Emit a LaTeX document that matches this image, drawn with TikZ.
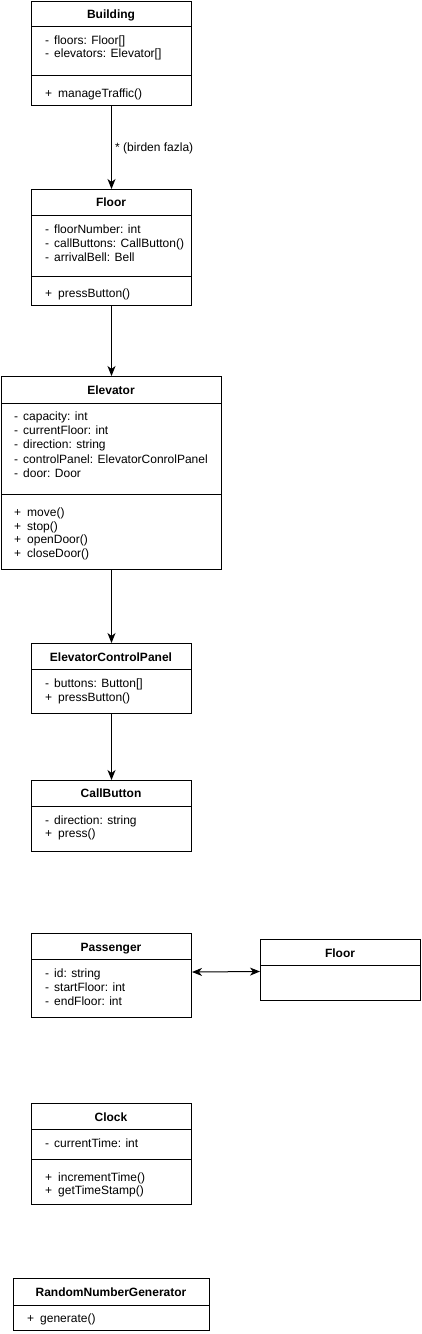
\documentclass[tikz,border=0pt]{standalone}
\usepackage{fontspec}
\setmainfont{Liberation Sans}
\usetikzlibrary{arrows.meta}
\tikzset{
  box/.style={draw=black, line width=1pt, inner sep=0pt, anchor=north west},
  ttl/.style={anchor=base, inner sep=0pt, font=\fontsize{12}{14}\selectfont\bfseries},
  mem/.style={anchor=base west, inner sep=0pt, font=\fontsize{12}{14}\selectfont},
  lbl/.style={anchor=base west, inner sep=0pt, font=\fontsize{12}{14}\selectfont},
  sep/.style={line width=1pt},
  arr/.style={line width=1pt, -{Stealth[length=10pt,width=8pt,inset=3pt]}},
  arrb/.style={line width=1pt, {Stealth[length=10pt,width=8pt,inset=3pt]}-{Stealth[length=10pt,width=8pt,inset=3pt]}},
}
\newcommand{\mdash}{-\hspace{5pt}}
\newcommand{\mplus}{+\hspace{6pt}}
\begin{document}
\begin{tikzpicture}[x=1pt,y=-1pt]
\useasboundingbox[fill=white] (0,0) rectangle (421,1334);

% Building
\node[box, minimum width=160pt, minimum height=104.5pt] (building) at (31,0.5) {};
\draw[sep] (31,26) -- (191,26);
\draw[sep] (31,75.5) -- (191,75.5);
\node[ttl] (buildingT) at (111,18) {Building};
\node[mem] (b1) at (45,44) {\mdash floors: Floor[]};
\node[mem] (b2) at (45,57.5) {\mdash elevators: Elevator[]};
\node[mem] (b3) at (45,97) {\mplus manageTraffic()};

% Floor
\node[box, minimum width=160pt, minimum height=116pt] (floor) at (31,189) {};
\draw[sep] (31,215) -- (191,215);
\draw[sep] (31,276) -- (191,276);
\node[ttl] (floorT) at (111,206) {Floor};
\node[mem] (f1) at (45,233) {\mdash floorNumber: int};
\node[mem] (f2) at (45,247) {\mdash callButtons: CallButton()};
\node[mem] (f3) at (45,261) {\mdash arrivalBell: Bell};
\node[mem] (f4) at (45,297) {\mplus pressButton()};

% Elevator
\node[box, minimum width=220pt, minimum height=193pt] (elevator) at (1,376) {};
\draw[sep] (1,403) -- (221,403);
\draw[sep] (1,494) -- (221,494);
\node[ttl] (elevatorT) at (111,394) {Elevator};
\node[mem] (e1) at (14,420.5) {\mdash capacity: int};
\node[mem] (e2) at (14,434.7) {\mdash currentFloor: int};
\node[mem] (e3) at (14,448.8) {\mdash direction: string};
\node[mem] (e4) at (14,463) {\mdash controlPanel: ElevatorConrolPanel};
\node[mem] (e5) at (14,477) {\mdash door: Door};
\node[mem] (e6) at (14,516.5) {\mplus move()};
\node[mem] (e7) at (14,530) {\mplus stop()};
\node[mem] (e8) at (14,543.7) {\mplus openDoor()};
\node[mem] (e9) at (14,557) {\mplus closeDoor()};

% ElevatorControlPanel
\node[box, minimum width=160pt, minimum height=70pt] (ecp) at (31,643) {};
\draw[sep] (31,669) -- (191,669);
\node[ttl] (ecpT) at (111,661) {ElevatorControlPanel};
\node[mem] (p1) at (45,687) {\mdash buttons: Button[]};
\node[mem] (p2) at (45,701) {\mplus pressButton()};

% CallButton
\node[box, minimum width=160pt, minimum height=71pt] (callbutton) at (31,780) {};
\draw[sep] (31,806) -- (191,806);
\node[ttl] (callbuttonT) at (111,797) {CallButton};
\node[mem] (c1) at (45,824) {\mdash direction: string};
\node[mem] (c2) at (45,837.5) {\mplus press()};

% Passenger
\node[box, minimum width=160pt, minimum height=84pt] (passenger) at (31,933) {};
\draw[sep] (31,959) -- (191,959);
\node[ttl] (passengerT) at (111,951) {Passenger};
\node[mem] (s1) at (45,977) {\mdash id: string};
\node[mem] (s2) at (45,991) {\mdash startFloor: int};
\node[mem] (s3) at (45,1005) {\mdash endFloor: int};

% Floor (right)
\node[box, minimum width=160pt, minimum height=61pt] (floorb) at (260,939) {};
\draw[sep] (260,965) -- (420,965);
\node[ttl] (floorbT) at (340,957) {Floor};

% Clock
\node[box, minimum width=160pt, minimum height=101pt] (clock) at (31,1103) {};
\draw[sep] (31,1129) -- (191,1129);
\draw[sep] (31,1159) -- (191,1159);
\node[ttl] (clockT) at (111,1121) {Clock};
\node[mem] (k1) at (45,1147) {\mdash currentTime: int};
\node[mem] (k2) at (45,1181) {\mplus incrementTime()};
\node[mem] (k3) at (45,1194.5) {\mplus getTimeStamp()};

% RandomNumberGenerator
\node[box, minimum width=196pt, minimum height=52pt] (rng) at (13,1278) {};
\draw[sep] (13,1305) -- (209,1305);
\node[ttl] (rngT) at (111,1296) {RandomNumberGenerator};
\node[mem] (r1) at (27,1322) {\mplus generate()};

% Connectors
\draw[arr] (building.south) -- (floor.north);
\node[lbl] (lab) at (115,151) {* (birden fazla)};
\draw[arr] (floor.south) -- (elevator.north);
\draw[arr] (elevator.south) -- (ecp.north);
\draw[arr] (ecp.south) -- (callbutton.north);
\coordinate (pa) at (passenger.east |- 0,972);
\coordinate (pb) at (floorb.west |- 0,971.5);
\draw[arrb] (pa) -- (pb);
\end{tikzpicture}
\end{document}
